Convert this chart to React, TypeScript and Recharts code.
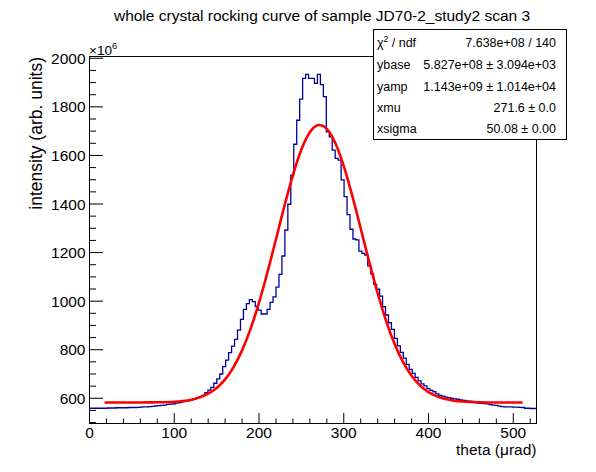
import React from 'react';
import { ComposedChart, Line, XAxis, YAxis } from 'recharts';

// ---- data ----
const BIN_LOW = 0;
const BIN_WIDTH = 3.4927;
const counts: number[] = [
  559, 559, 559, 559, 559, 559, 560, 560, 560, 561,
  561, 561, 561, 562, 562, 562, 563, 564, 565, 565,
  566, 567, 569, 570, 571, 572, 575, 576, 577, 580,
  582, 585, 587, 590, 594, 599, 603, 607, 612, 623,
  634, 645, 662, 680, 700, 730, 757, 788, 815, 843,
  881, 925, 966, 990, 1006, 998, 978, 963, 947, 947,
  966, 995, 1018, 1058, 1110, 1186, 1293, 1399, 1519, 1646,
  1745, 1832, 1917, 1934, 1917, 1917, 1897, 1934, 1892, 1842,
  1697, 1677, 1622, 1588, 1581, 1499, 1430, 1356, 1296, 1256,
  1252, 1206, 1197, 1190, 1145, 1112, 1069, 1049, 1021, 977,
  943, 911, 884, 847, 816, 789, 765, 740, 719, 703,
  686, 672, 659, 651, 640, 633, 627, 618, 612, 609,
  605, 603, 600, 598, 596, 593, 591, 589, 588, 587,
  582, 580, 579, 578, 577, 574, 572, 571, 568, 566,
  565, 565, 565, 564, 564, 563, 562, 559, 559, 558,
  558,
];
const fitX: number[] = [
  17.7, 40, 60, 80, 100, 110, 120, 130, 140, 150, 160, 170, 180, 190, 200,
  210, 220, 230, 240, 250, 260, 265, 270, 275, 280, 290, 300, 310, 320, 330,
  340, 350, 360, 370, 380, 390, 400, 410, 420, 430, 440, 460, 480, 511,
];
const fitY: number[] = [
  582.7, 582.7, 582.9, 583.5, 585.9, 589.0, 594.4, 603.7, 618.9, 642.7, 678.1, 728.7, 797.2, 885.7, 994.1,
  1119.1, 1254.9, 1392.2, 1519.4, 1624.2, 1695.4, 1715.8, 1725.1, 1722.1, 1709.7, 1651.1, 1556.0, 1434.6, 1299.2, 1161.7,
  1032.5, 918.4, 823.4, 748.5, 692.5, 652.6, 625.4, 607.8, 596.9, 590.4, 586.7, 583.7, 582.9, 582.7,
];
const xTicks: number[] = [0, 20, 40, 60, 80, 100, 120, 140, 160, 180, 200, 220, 240, 260, 280, 300, 320, 340, 360, 380, 400, 420, 440, 460, 480, 500, 520];
const xMajor: number[] = [0, 100, 200, 300, 400, 500];
const yTicks: number[] = [500, 550, 600, 650, 700, 750, 800, 850, 900, 950, 1000, 1050, 1100, 1150, 1200, 1250, 1300, 1350, 1400, 1450, 1500, 1550, 1600, 1650, 1700, 1750, 1800, 1850, 1900, 1950, 2000];
const yMajor: number[] = [600, 800, 1000, 1200, 1400, 1600, 1800, 2000];

const statsLabels = ['χ2 / ndf', 'ybase', 'yamp', 'xmu', 'xsigma'];
const statsValues = ['7.638e+08 / 140', '5.827e+08 ± 3.094e+03', '1.143e+09 ± 1.014e+04', '271.6 ± 0.0', '50.08 ± 0.00'];

const histData = counts
  .map((c, i) => ({ x: BIN_LOW + i * BIN_WIDTH, y: c }))
  .concat([{ x: BIN_LOW + counts.length * BIN_WIDTH, y: counts[counts.length - 1] }]);
const fitData = fitX.map((x, i) => ({ x, y: fitY[i] }));

// ---- layout ----
const W = 596;
const H = 472;
const PL = 89.5;
const PR = 536.5;
const PT = 56.5;
const PB = 423.5;
const FONT = '"Liberation Sans", Arial, Helvetica, sans-serif';

const XTick = (props: any) => {
  const { x, y, payload } = props;
  const v = payload.value;
  const major = xMajor.includes(v);
  return (
    <g>
      <line x1={x} x2={x} y1={y} y2={y - (major ? 10.5 : 5)} stroke="#000" strokeWidth={1} />
      {major && (
        <text x={x} y={y + 14.5} textAnchor="middle" fontSize={15.5} fontFamily={FONT} fill="#000">
          {v}
        </text>
      )}
    </g>
  );
};

const YTick = (props: any) => {
  const { x, y, payload } = props;
  const v = payload.value;
  const major = yMajor.includes(v);
  return (
    <g>
      <line x1={x} x2={x + (major ? 13.5 : 6.5)} y1={y} y2={y} stroke="#000" strokeWidth={1} />
      {major && (
        <text x={x - 4} y={y + 5.5} textAnchor="end" fontSize={15.5} fontFamily={FONT} fill="#000">
          {v}
        </text>
      )}
    </g>
  );
};

export default function App() {
  const boxX1 = 373.5;
  const boxX2 = 566.5;
  const boxY1 = 29.5;
  const boxY2 = 139.5;
  const rowCenters = [42, 64, 86, 107.5, 128];
  return (
    <div style={{ position: 'absolute', left: 0, top: 0, width: W, height: H, background: '#fff' }}>
      <ComposedChart
        width={W}
        height={H}
        margin={{ top: PT, right: W - PR, bottom: H - PB - 30, left: 0 }}
      >
        <XAxis
          type="number"
          dataKey="x"
          domain={[0, 527.4]}
          allowDataOverflow
          ticks={xTicks}
          interval={0}
          tick={<XTick />}
          tickLine={false}
          tickSize={0}
          tickMargin={0}
          height={30}
          axisLine={{ stroke: '#000', strokeWidth: 1 }}
        />
        <YAxis
          type="number"
          domain={[496.2, 2007.4]}
          allowDataOverflow
          ticks={yTicks}
          interval={0}
          tick={<YTick />}
          tickLine={false}
          tickSize={0}
          tickMargin={0}
          width={PL}
          axisLine={{ stroke: '#000', strokeWidth: 1 }}
        />
        <Line
          data={histData}
          dataKey="y"
          type="stepAfter"
          stroke="#000099"
          strokeWidth={1.3}
          dot={false}
          activeDot={false}
          isAnimationActive={false}
        />
        <Line
          data={fitData}
          dataKey="y"
          type="monotone"
          stroke="#ff0000"
          strokeWidth={2.6}
          dot={false}
          activeDot={false}
          isAnimationActive={false}
        />
      </ComposedChart>
      <svg
        width={W}
        height={H}
        style={{ position: 'absolute', left: 0, top: 0, pointerEvents: 'none' }}
        fontFamily={FONT}
      >
        <rect x={PL} y={PT} width={PR - PL} height={PB - PT} fill="none" stroke="#000" strokeWidth={1} />
        <text x={322} y={21} textAnchor="middle" fontSize={15.5} fill="#000">
          whole crystal rocking curve of sample JD70-2_study2 scan 3
        </text>
        <text x={PR} y={454.5} textAnchor="end" fontSize={15.5} fill="#000">
          theta (μrad)
        </text>
        <text x={42} y={57} transform="rotate(-90 42 57)" textAnchor="end" fontSize={17.5} fill="#000">
          intensity (arb. units)
        </text>
        <text x={89} y={54.5} fontSize={13.5} fill="#000">
          ×10
          <tspan dy={-6} fontSize={9.5}>6</tspan>
        </text>
        <rect x={boxX1} y={boxY1} width={boxX2 - boxX1} height={boxY2 - boxY1} fill="#fff" stroke="#000" strokeWidth={1} />
        {statsLabels.map((lab, i) => (
          <text key={'l' + i} x={377} y={rowCenters[i] + 4.5} fontSize={12.5} fill="#000">
            {i === 0 ? (
              <>
                χ<tspan dy={-5} fontSize={8.5}>2</tspan>
                <tspan dy={5}> / ndf</tspan>
              </>
            ) : (
              lab
            )}
          </text>
        ))}
        {statsValues.map((val, i) => (
          <text key={'v' + i} x={556} y={rowCenters[i] + 4.5} textAnchor="end" fontSize={12.5} fill="#000">
            {val}
          </text>
        ))}
      </svg>
    </div>
  );
}
